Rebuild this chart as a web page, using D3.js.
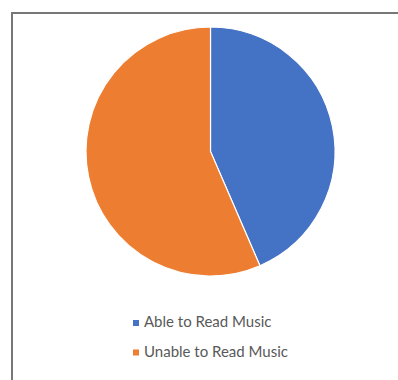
<!DOCTYPE html>
<html><head><meta charset="utf-8">
<script src="https://cdn.jsdelivr.net/npm/d3@7"></script>
<style>html,body{margin:0;padding:0;background:#fff;}svg{display:block;}</style>
</head><body>
<svg id="c" width="398" height="380"></svg>
<script>
const categories = ["Able to Read Music", "Unable to Read Music"];
const values = [43.5, 56.5];
const colors = ["#4472C4", "#ED7D31"];

const svg = d3.select("#c");
// frame
svg.append("path").attr("d", "M12,380 V13 H398").attr("fill", "none").attr("stroke", "#777").attr("stroke-width", 2);

const cx = 210.5, cy = 151.5, r = 124.5;
const pie = d3.pie().sort(null).value(d => d)(values);
const arc = d3.arc().innerRadius(0).outerRadius(r);
const g = svg.append("g").attr("transform", `translate(${cx},${cy})`);
g.selectAll("path").data(pie).join("path")
  .attr("d", arc).attr("fill", (d, i) => colors[i])
  .attr("stroke", "#fff").attr("stroke-width", 1.2);

const leg = svg.append("g");
const rows = leg.selectAll("g").data(categories).join("g")
  .attr("transform", (d, i) => `translate(133,${327 + i * 29.5})`);
rows.append("rect").attr("x", 0).attr("y", -7).attr("width", 6).attr("height", 6)
  .attr("fill", (d, i) => colors[i]);
rows.append("text").attr("x", 11).attr("y", 0)
  .attr("font-family", "Lato, 'Open Sans', sans-serif").attr("font-size", 15)
  .attr("fill", "#595959").text(d => d);
</script>
</body></html>
